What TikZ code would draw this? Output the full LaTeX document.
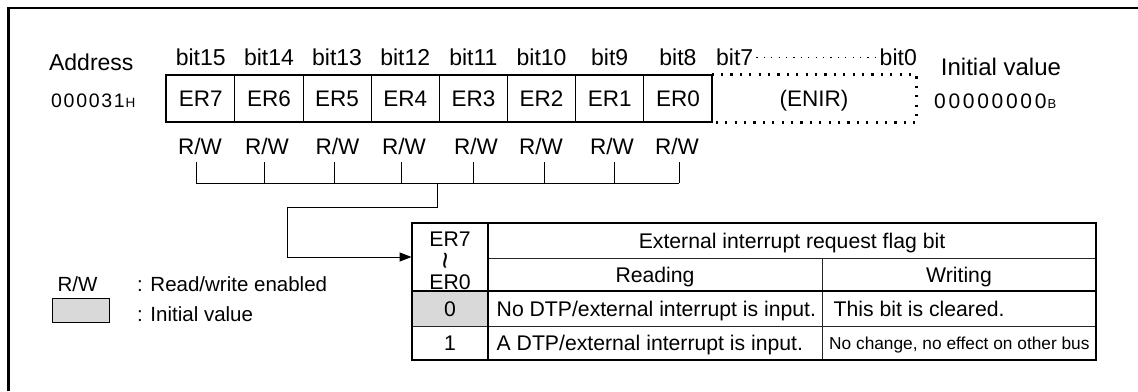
\documentclass[tikz,border=0pt]{standalone}
\usepackage{fontspec}
\setmainfont{Liberation Sans}
\usetikzlibrary{arrows.meta}
\definecolor{cellgray}{RGB}{217,217,217}
\tikzset{
  lbl/.style={inner sep=0pt, text height=16.5pt, text depth=0pt, font=\fontsize{23}{27}\selectfont},
  rwl/.style={inner sep=0pt, text height=16.3pt, text depth=0pt, font=\fontsize{22.5}{27}\selectfont},
  regcell/.style={draw, line width=0.9pt, minimum width=68.16pt, minimum height=47pt, inner sep=0pt, text height=16pt, text depth=0pt, font=\fontsize{22.5}{27}\selectfont},
  tcell/.style={draw=black!85, line width=0.9pt, inner sep=0pt, text height=15pt, text depth=0pt, font=\fontsize{21.2}{25}\selectfont},
  ttxt/.style={inner sep=0pt, text height=15pt, text depth=0pt, font=\fontsize{21.2}{25}\selectfont},
  legtxt/.style={inner sep=0pt, text height=15pt, text depth=0pt, font=\fontsize{20.5}{25}\selectfont},
  heavy/.style={line width=2pt},
  thinline/.style={line width=1pt},
  arrowline/.style={line width=1pt, -{Triangle[length=12pt,width=9pt]}},
}
\begin{document}
\begin{tikzpicture}[x=1pt,y=-1pt]
\useasboundingbox (0,0) rectangle (1138,391);
% outer frame (open at right and bottom)
\draw[line width=2.5pt] (8.7,391) -- (8.7,7.8) -- (1138,7.8);

% address
\node[lbl] (addr) at (91.3,62.4) {Address};
\node[inner sep=0pt, text height=14pt, text depth=0pt, font=\fontsize{19.5}{23}\selectfont, anchor=west] (addrval) at (51,100.5)
  {0\kern1.7pt 0\kern1.7pt 0\kern1.7pt 0\kern1.7pt 3\kern1.7pt 1\kern0.8pt{\fontsize{13.5}{15}\selectfont H}};

% register cells
\foreach \t [count=\i from 0] in {ER7,ER6,ER5,ER4,ER3,ER2,ER1,ER0}
  \node[regcell] (c\i) at (200.78+68.16*\i,98.5) {\t};
\draw[heavy] (c0.north west) rectangle (c7.south east);

% bit labels
\foreach \t [count=\i from 0] in {bit15,bit14,bit13,bit12,bit11,bit10,bit9,bit8}
  \node[lbl] (b\i) at (c\i |- 0,57.5) {\t};
\node[lbl, anchor=west] (b7l) at (716,57.5) {bit7};
\node[lbl, anchor=east] (b0l) at (917,57.5) {bit0};
\draw[line width=1pt, dash pattern=on 1.2pt off 6.2pt, shorten <=3pt, shorten >=4pt] (b7l.east) -- (b0l.west);

% ENIR dotted box
\node[regcell, draw=none, minimum width=204pt] (enir) at (814,98.5) {(ENIR)};
\draw[line width=2.2pt, dash pattern=on 2.2pt off 7.2pt] (enir.north west) -- (enir.north east) -- (enir.south east) -- (enir.south west);

% initial value
\node[inner sep=0pt, text height=17.2pt, text depth=0pt, font=\fontsize{24}{28}\selectfont] (initl) at (1001,66.4) {Initial value};
\node[inner sep=0pt, text height=15pt, text depth=0pt, font=\fontsize{21}{25}\selectfont, anchor=west] (initv) at (934,100.8)
  {0\kern2.7pt 0\kern2.7pt 0\kern2.7pt 0\kern2.7pt 0\kern2.7pt 0\kern2.7pt 0\kern2.7pt 0\kern1pt{\fontsize{13}{15}\selectfont B}};

% R/W labels and ticks
\foreach \x [count=\i from 0] in {200,267,337.5,404,476,541,612,677}
  \node[rwl] (rw\i) at (\x,146.7) {R/W};
\coordinate (bus) at (437,183);
\foreach \x [count=\i from 0] in {196,264,334,401,473,544,614,679}
  \coordinate (tk\i) at (\x,162);
\foreach \i in {0,...,7}
  \draw[thinline] (tk\i) -- (tk\i |- bus);
\draw[thinline] (tk0 |- bus) -- (tk7 |- bus);

% table
\node[tcell, minimum width=76pt, minimum height=68pt] (hA) at (450,257) {};
\node[ttxt] (hA1) at (450,238.5) {ER7};
\node[inner sep=0pt, font=\fontsize{30}{34}\selectfont] (hA2) at (450,261) {\rotatebox{90}{\textasciitilde}};
\node[ttxt] (hA3) at (450,282) {ER0};
\node[tcell, minimum width=608pt, minimum height=35pt] (hB) at (792,240.5) {External interrupt request flag bit};
\node[tcell, minimum width=334pt, minimum height=33pt] (hC) at (655,274.5) {Reading};
\node[tcell, minimum width=274pt, minimum height=33pt] (hD) at (959,274.5) {Writing};
\node[tcell, fill=cellgray, minimum width=76pt, minimum height=35pt] (r0a) at (450,308.5) {0};
\node[tcell, minimum width=334pt, minimum height=35pt] (r0b) at (655,308.5) {};
\node[tcell, minimum width=274pt, minimum height=35pt] (r0c) at (959,308.5) {};
\node[tcell, minimum width=76pt, minimum height=34pt] (r1a) at (450,343) {1};
\node[tcell, minimum width=334pt, minimum height=34pt] (r1b) at (655,343) {};
\node[tcell, minimum width=274pt, minimum height=34pt] (r1c) at (959,343) {};
\node[ttxt, anchor=west] (r0bt) at (496.5,308.5) {No DTP/external interrupt is input.};
\node[ttxt, anchor=west] (r0ct) at (833.5,308.5) {This bit is cleared.};
\node[ttxt, anchor=west] (r1bt) at (496.5,343) {A DTP/external interrupt is input.};
\node[inner sep=0pt, text height=12.4pt, text depth=0pt, font=\fontsize{17.3}{21}\selectfont, anchor=west] (r1ct) at (829,343) {No change, no effect on other bus};
\draw[heavy] (hA.north west) rectangle (r1c.south east);
\draw[heavy] (hA.north east) -- (r1a.south east);
\draw[heavy] (hA.south west) -- (hD.south east);

% connector to table
\coordinate (bend) at (287,207);
\draw[arrowline] (bus) |- (bend) |- (hA.west);

% legend
\node[legtxt] (lrw) at (77.5,284) {R/W};
\node[legtxt, anchor=west] (lrwt) at (137,284) {: Read/write enabled};
\node[draw, fill=cellgray, line width=0.9pt, minimum width=57pt, minimum height=24pt, inner sep=0pt] (lbox) at (80.5,310) {};
\node[legtxt, anchor=west] (lboxt) at (137,313.5) {: Initial value};
\end{tikzpicture}
\end{document}
